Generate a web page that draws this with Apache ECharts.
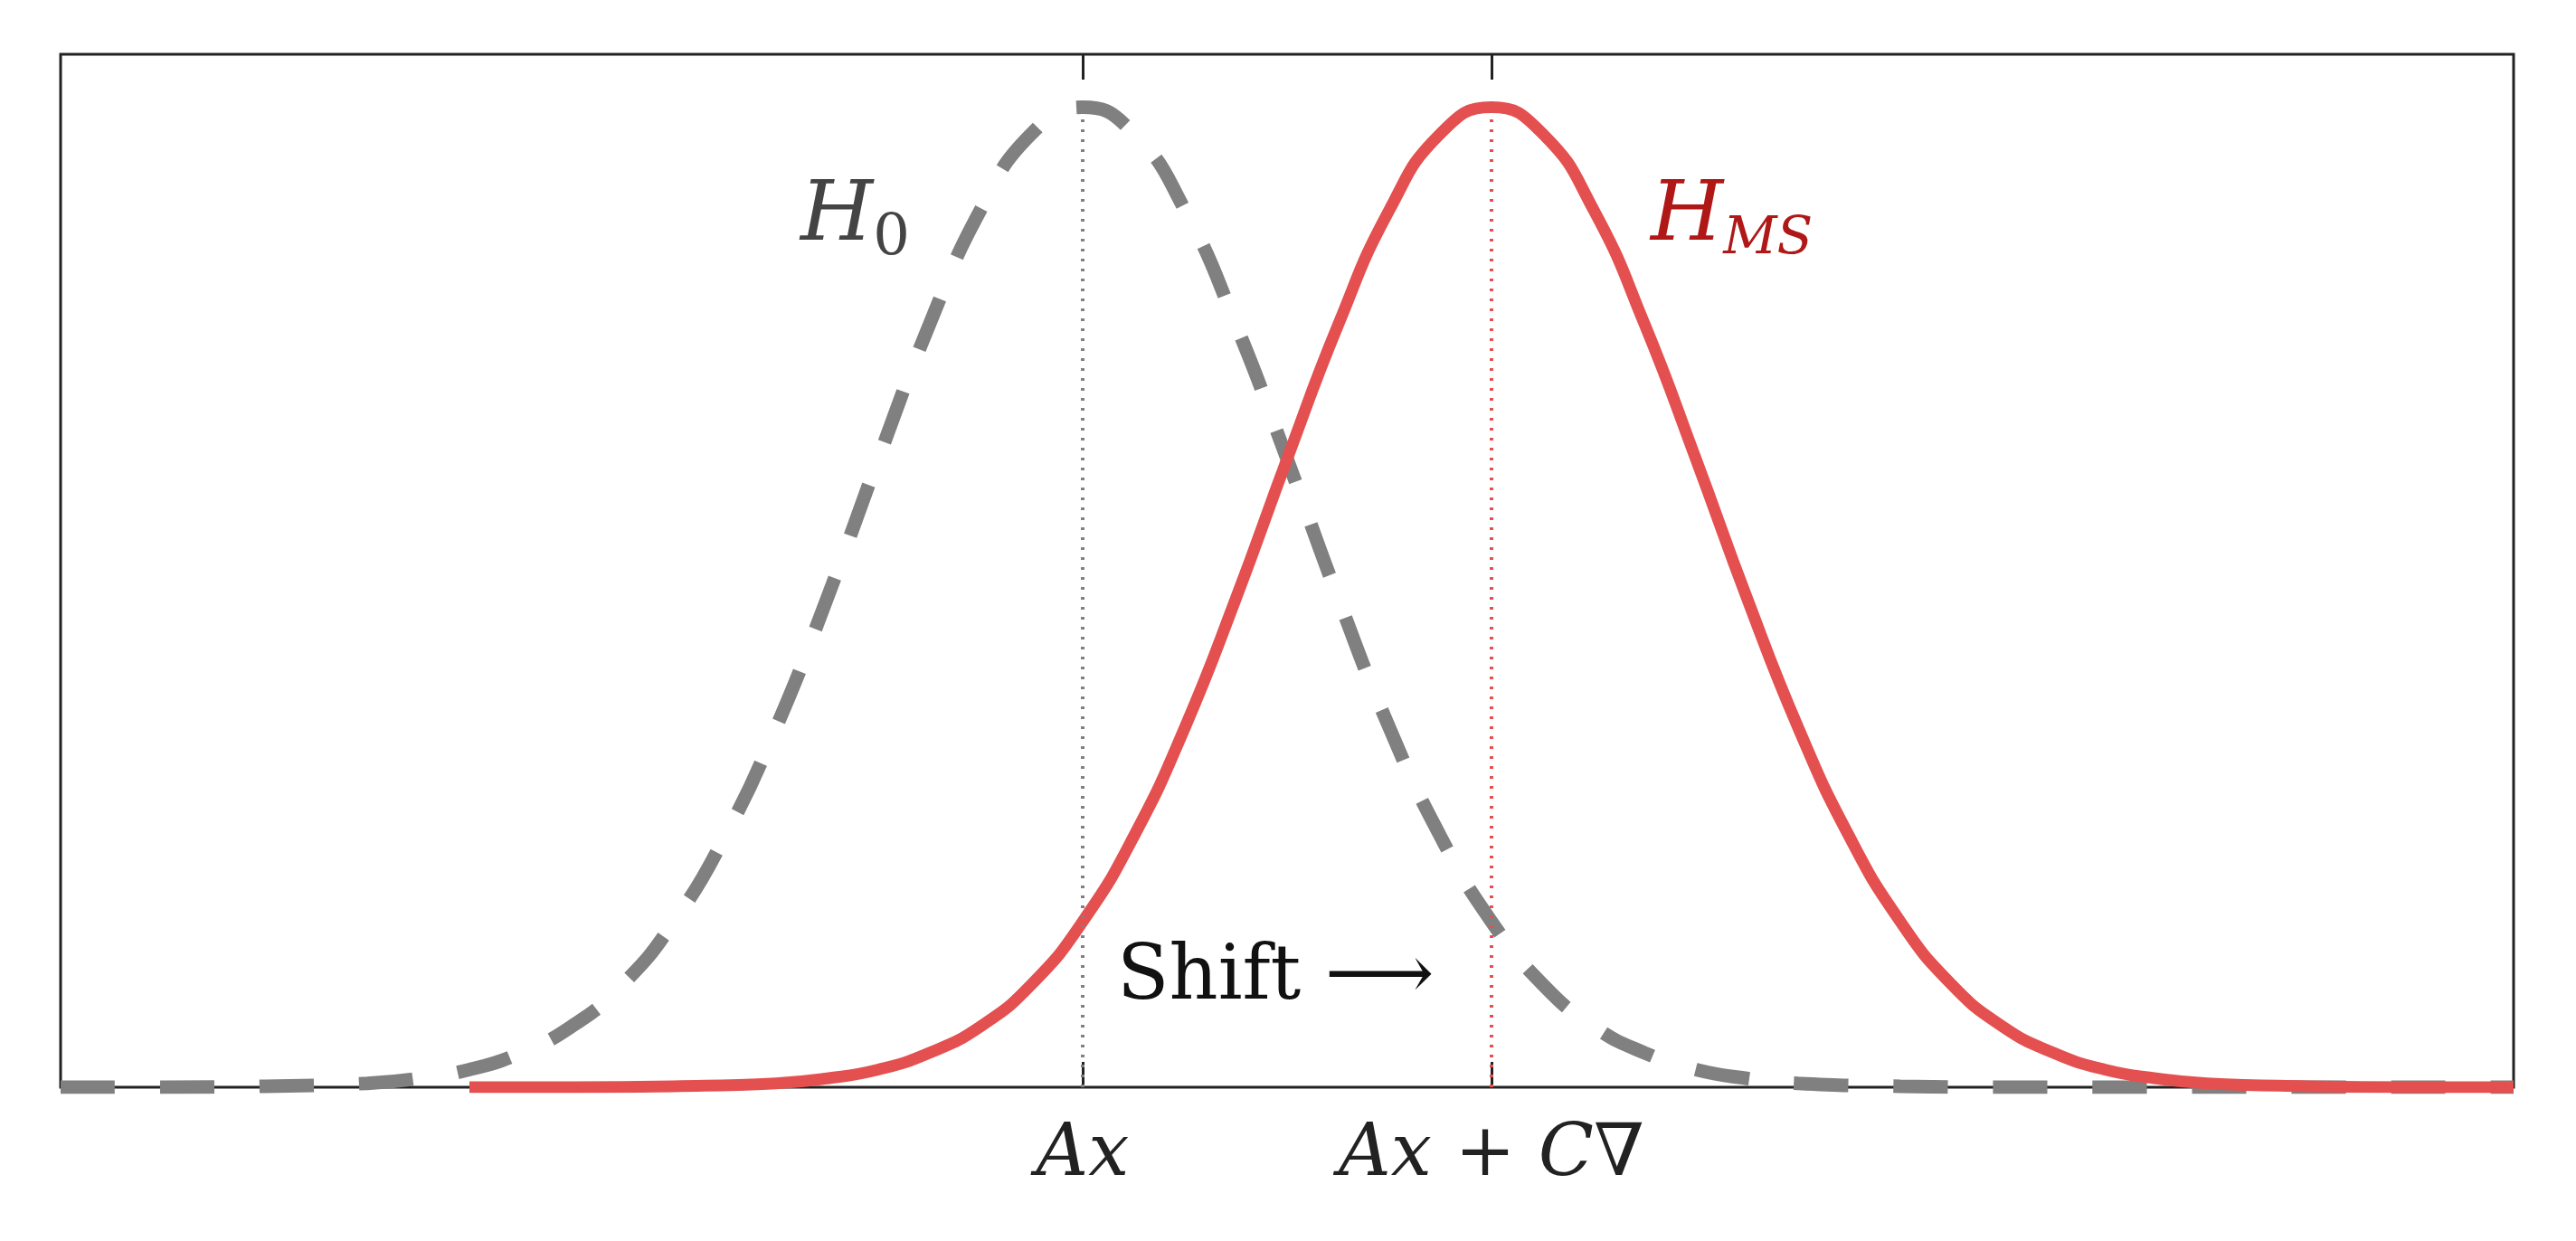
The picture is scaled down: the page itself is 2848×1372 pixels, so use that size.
<!DOCTYPE html>
<html>
<head>
<meta charset="utf-8">
<script src="https://cdn.jsdelivr.net/npm/echarts@6/dist/echarts.min.js"></script>
<style>html,body{margin:0;padding:0;background:#fff}#main{width:2848px;height:1372px}</style>
</head>
<body>
<div id="main"></div>
<script>
// offsets from the mean and curve height (peak = 1)
var offsets = [-2.5,-2.25,-2,-1.75,-1.625,-1.5,-1.375,-1.25,-1.125,-1,-0.875,-0.75,-0.625,-0.5,-0.375,-0.25,-0.125,0,
  0.125,0.25,0.375,0.5,0.625,0.75,0.875,1,1.125,1.25,1.375,1.5,1.625,1.75,2,2.25,2.5];
var heights = [0,0,0.001,0.004,0.009,0.018,0.035,0.062,0.105,0.169,0.256,0.367,0.499,0.641,0.778,0.895,0.973,1,
  0.973,0.895,0.778,0.641,0.499,0.367,0.256,0.169,0.105,0.062,0.035,0.018,0.009,0.004,0.001,0,0];
var meanH0 = 0, meanMS = 1;
var tickValues = [0, 1];
var tickLabels = ['Ax', 'Ax + C∇'];

function curve(mean, from, to) {
  var pts = [];
  offsets.forEach(function (d, i) {
    var x = mean + d;
    if (x >= from - 1e-9 && x <= to + 1e-9) pts.push([x, heights[i]]);
  });
  if (pts[pts.length - 1][0] < to) pts.push([to, 0]);
  if (pts[0][0] > from) pts.unshift([from, 0]);
  return pts;
}

var chart = echarts.init(document.getElementById('main'));
chart.setOption({
  animation: false,
  grid: {left: 67, right: 69, top: 60, bottom: 170, show: true, borderColor: '#222', borderWidth: 3},
  xAxis: [
    {type: 'value', min: -2.5, max: 3.5, position: 'bottom', splitLine: {show: false},
      axisLine: {show: false},
      axisTick: {show: true, inside: true, length: 28, customValues: tickValues, lineStyle: {color: '#222', width: 3}},
      axisLabel: {customValues: tickValues, margin: 36,
        fontFamily: 'DejaVu Serif', fontStyle: 'italic', fontSize: 80, color: '#222',
        formatter: function (v) { return tickLabels[tickValues.indexOf(v)]; }}},
    {type: 'value', min: -2.5, max: 3.5, position: 'top', splitLine: {show: false},
      axisLine: {show: false},
      axisTick: {show: true, inside: true, length: 28, customValues: tickValues, lineStyle: {color: '#222', width: 3}},
      axisLabel: {show: false}}
  ],
  yAxis: {type: 'value', min: 0, max: 1.054, show: false},
  series: [
    {type: 'line', smooth: 0.5, showSymbol: false, data: curve(meanH0, -2.5, 3.5),
      lineStyle: {color: '#808080', width: 15, type: [60, 50]},
      markLine: {symbol: 'none', silent: true, label: {show: false},
        lineStyle: {color: '#808080', width: 4, type: [3, 8]},
        data: [[{coord: [meanH0, 0]}, {coord: [meanH0, 1]}]]}},
    {type: 'line', smooth: 0.5, showSymbol: false, data: curve(meanMS, -1.5, 3.5), z: 3,
      lineStyle: {color: '#e45050', width: 13},
      markLine: {symbol: 'none', silent: true, label: {show: false},
        lineStyle: {color: '#e45050', width: 4, type: [3, 8]},
        data: [[{coord: [meanMS, 0]}, {coord: [meanMS, 1]}]]}}
  ],
  graphic: [
    {type: 'text', left: 885, top: 195, style: {text: '{h|H}{s|0}', rich: {
      h: {fontFamily: 'DejaVu Serif', fontStyle: 'italic', fontSize: 92, fill: '#444'},
      s: {fontFamily: 'DejaVu Serif', fontSize: 64, fill: '#444', padding: [48, 0, 0, 0]}}}},
    {type: 'text', left: 1825, top: 195, style: {text: '{h|H}{s|MS}', rich: {
      h: {fontFamily: 'DejaVu Serif', fontStyle: 'italic', fontSize: 92, fill: '#b01818'},
      s: {fontFamily: 'DejaVu Serif', fontStyle: 'italic', fontSize: 58, fill: '#b01818', padding: [48, 0, 0, 0]}}}},
    {type: 'text', left: 1235, top: 1040, style: {text: 'Shift ⟶', fontFamily: 'DejaVu Serif', fontSize: 84, fill: '#111'}}
  ]
});
</script>
</body>
</html>
